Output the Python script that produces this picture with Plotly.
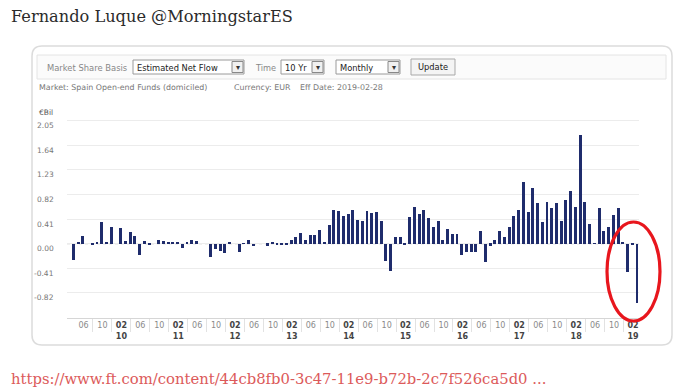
import plotly.graph_objects as go

# the page body keeps an 8px margin, so the figure is drawn 8px in from the window edge
OX, OY = 8, 8
W, H = 685 - OX, 390 - OY

def px(x):
    return (x - OX) / W

def py(y):
    return 1 - (y - OY) / H

# ---------------- data ----------------
months = [f"{2009 + (m - 1) // 12}-{(m - 1) % 12 + 1:02d}" for m in range(3, 3 + 120)]
flows = [
    -0.27, 0.04, 0.14, 0.00, -0.02, 0.04, 0.36, 0.04, 0.28, 0.00,   # 2009-03 .. 2009-12
    0.26, 0.05, 0.20, 0.14, -0.19, 0.05, -0.02, 0.00, 0.07, 0.05,   # 2010-01 .. 2010-10
    0.04, 0.04, 0.04, -0.07, 0.02, 0.07, 0.05, 0.00, 0.00, -0.22,   # 2010-11 .. 2011-08
    -0.08, -0.11, -0.15, 0.02, 0.00, -0.14, 0.01, 0.06, -0.04, 0.00,  # 2011-09 .. 2012-06
    0.00, -0.03, 0.04, -0.02, -0.02, -0.02, 0.06, 0.11, 0.18, 0.07,  # 2012-07 .. 2013-04
    0.15, 0.15, 0.24, 0.04, 0.31, 0.57, 0.55, 0.47, 0.50, 0.57,     # 2013-05 .. 2014-02
    0.40, 0.38, 0.55, 0.52, 0.53, 0.38, -0.28, -0.45, 0.12, 0.12,   # 2014-03 .. 2014-12
    -0.01, 0.45, 0.62, 0.50, 0.56, 0.44, 0.28, 0.39, 0.06, 0.25,    # 2015-01 .. 2015-10
    0.17, 0.16, -0.18, -0.14, -0.14, -0.13, 0.21, -0.30, -0.03, 0.06,  # 2015-11 .. 2016-08
    0.22, 0.12, 0.29, 0.46, 0.57, 1.04, 0.54, 0.94, 0.69, 0.36,     # 2016-09 .. 2017-06
    0.70, 0.60, 0.68, 0.39, 0.74, 0.88, 0.61, 1.82, 0.70, 0.33,     # 2017-07 .. 2018-04
    0.01, 0.60, 0.21, 0.28, 0.48, 0.60, 0.03, -0.47, -0.02, -0.99,  # 2018-05 .. 2019-02
]
y_ticks = [2.05, 1.64, 1.23, 0.82, 0.41, 0.00, -0.41, -0.82]
y_tick_text = ["2.05", "1.64", "1.23", "0.82", "0.41", "0.00", "-0.41", "-0.82"]
tick_months = ["06", "10", "02"]

# ---------------- figure ----------------
idx = list(range(len(months)))
fig = go.Figure()
fig.add_trace(go.Bar(
    x=idx, y=flows, width=0.62,
    marker=dict(color="#1f2c6c", line=dict(width=0)),
    hovertext=months, hoverinfo="text+y",
))

# x tick labels: every 4 months (06, 10, 02 + year)
tickvals, ticktext, minor_vals = [], [], []
for i, m in enumerate(months):
    yy, mm = m.split("-")
    if mm in tick_months:
        tickvals.append(i - 0.85)
        if mm == "02":
            ticktext.append(f"<b>02</b><br><b>{yy[2:]}</b>")
        else:
            ticktext.append(f"<span style='color:#8a8a8a'>{mm}</span><br> ")
        minor_vals.append(i - 0.85 + 2)

fig.update_layout(
    width=W, height=H,
    margin=dict(l=0, r=0, t=0, b=0),
    paper_bgcolor="white", plot_bgcolor="white",
    showlegend=False,
    bargap=0,
    font=dict(family="DejaVu Sans", size=8, color="#555"),
    xaxis=dict(
        domain=[px(67), px(639)],
        range=[-1.33, 119.42],
        tickmode="array", tickvals=tickvals, ticktext=ticktext,
        ticks="", showgrid=False, zeroline=False,
        showline=True, linecolor="#d6d6d6", linewidth=1,
        tickfont=dict(family="DejaVu Sans", size=8, color="#444"),
        minor=dict(tickmode="array", tickvals=minor_vals, ticks="outside",
                   ticklen=13, tickcolor="#e2e2e2", tickwidth=1, showgrid=False),
        fixedrange=True,
    ),
    yaxis=dict(
        domain=[py(317.5), py(114.8)],
        range=[-1.23, 2.15],
        tickmode="array", tickvals=y_ticks,
        showticklabels=False,
        showgrid=True, gridcolor="#ececec", gridwidth=1,
        zeroline=False, showline=False, ticks="",
        fixedrange=True,
    ),
)

shapes = []
# card border with rounded corners
x0, x1, y0, y1, r = 32, 672, 46, 345, 10
path = (f"M {px(x0 + r)} {py(y0)} L {px(x1 - r)} {py(y0)} "
        f"Q {px(x1)} {py(y0)} {px(x1)} {py(y0 + r)} L {px(x1)} {py(y1 - r)} "
        f"Q {px(x1)} {py(y1)} {px(x1 - r)} {py(y1)} L {px(x0 + r)} {py(y1)} "
        f"Q {px(x0)} {py(y1)} {px(x0)} {py(y1 - r)} L {px(x0)} {py(y0 + r)} "
        f"Q {px(x0)} {py(y0)} {px(x0 + r)} {py(y0)} Z")
shapes.append(dict(type="path", path=path, xref="paper", yref="paper",
                   line=dict(color="#dcdcdc", width=1.5), layer="below"))
# control strip
shapes.append(dict(type="rect", xref="paper", yref="paper",
                   x0=px(37), x1=px(666), y0=py(79), y1=py(55),
                   line=dict(color="#e4e4e4", width=1), fillcolor="#fbfbfb", layer="below"))

def box(xa, xb, ya, yb, fill="white", color="#9a9a9a"):
    shapes.append(dict(type="rect", xref="paper", yref="paper",
                       x0=px(xa), x1=px(xb), y0=py(yb), y1=py(ya),
                       line=dict(color=color, width=1), fillcolor=fill))

# dropdowns
for (a, b) in [(133, 244), (281, 324), (336, 400)]:
    box(a, b, 60, 74)
    box(b - 12, b - 1, 61.5, 72.5, fill="#f0f0f0", color="#888")
# update button
box(411, 455, 59, 75, fill="#f4f4f4", color="#a9a9a9")

# zero line (dashed)
shapes.append(dict(type="line", xref="paper", yref="y", x0=px(67), x1=px(639),
                   y0=0, y1=0, line=dict(color="#bdbdbd", width=1, dash="dot"), layer="below"))
# highlight ellipse
shapes.append(dict(type="circle", xref="paper", yref="paper",
                   x0=px(607), x1=px(660), y0=py(321), y1=py(222),
                   line=dict(color="#e8161d", width=3.2)))
fig.update_layout(shapes=shapes)

ann = []

def text(x, y, s, size=8, color="#777", family="DejaVu Sans", xanchor="left"):
    ann.append(dict(x=px(x), y=py(y), xref="paper", yref="paper", text=s, showarrow=False,
                    xanchor=xanchor, yanchor="middle",
                    font=dict(family=family, size=size, color=color)))

text(9, 17, "Fernando Luque @MorningstarES", size=16.2, color="#2b2b2b", family="DejaVu Serif")
text(9, 378, "https://www.ft.com/content/44cb8fb0-3c47-11e9-b72b-2c7f526ca5d0 ...",
     size=14.8, color="#dc5a5a", family="DejaVu Serif")

text(45, 67.5, "Market Share Basis", size=8.4, color="#888")
text(135, 67.5, "Estimated Net Flow", size=8.3, color="#222")
text(253, 67.5, "Time", size=8.2, color="#888")
text(283, 67.5, "10 Yr", size=8.3, color="#222")
text(338, 67.5, "Monthly", size=8.3, color="#222")
text(433, 67, "Update", size=8.3, color="#222", xanchor="center")
for bx in (238, 318, 394):
    text(bx, 67.5, "▾", size=8, color="#333", xanchor="center")

text(37, 87, "Market: Spain Open-end Funds (domiciled)", size=7.9, color="#777")
text(232, 87, "Currency: EUR", size=7.9, color="#777")
text(298, 87, "Eff Date: 2019-02-28", size=7.9, color="#777")
text(37, 113, "€Bil", size=7.5, color="#555")

# y tick labels sit a few pixels below their gridlines, right-aligned
for v, t in zip(y_ticks, y_tick_text):
    ann.append(dict(x=px(56), y=v, xref="paper", yref="y", text=t, showarrow=False,
                    xanchor="right", yanchor="middle", yshift=-5,
                    font=dict(family="DejaVu Sans", size=7.5, color="#777")))

fig.update_layout(annotations=ann)

fig.write_html("out.html")
